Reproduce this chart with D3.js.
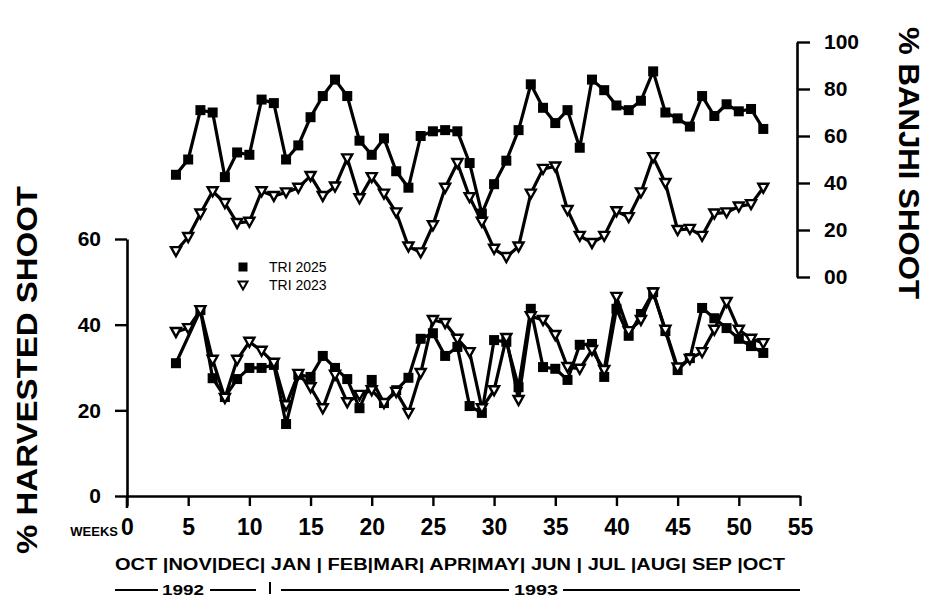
<!DOCTYPE html>
<html>
<head>
<meta charset="utf-8">
<script src="https://cdn.jsdelivr.net/npm/d3@7"></script>
<style>
  html, body { margin: 0; padding: 0; background: #fff; }
  svg { display: block; font-family: "Liberation Sans", Arial, Helvetica, sans-serif; }
</style>
</head>
<body>
<svg id="chart" width="930" height="600"></svg>
<script>
// Week number of each observation
const weeks = [4, 5, 6, 7, 8, 9, 10, 11, 12, 13, 14, 15, 16, 17, 18, 19, 20, 21, 22, 23, 24, 25, 26, 27, 28,
               29, 30, 31, 32, 33, 34, 35, 36, 37, 38, 39, 40, 41, 42, 43, 44, 45, 46, 47, 48, 49, 50, 51, 52];

// % banjhi shoot (right axis)
const banjhiTri2025 = [43.5, 50, 71, 70, 42.5, 53, 52, 75.5, 74, 50, 56, 68, 77, 84, 77, 58, 52, 59, 45, 38, 60, 62, 62.5, 62, 48.5,
                       27, 39.5, 49.5, 62.5, 82, 72, 65.5, 71, 55, 84, 79.5, 73, 71, 75, 87.5, 70, 67.5, 64, 77, 68.5, 73.5, 70.5, 71.5, 63];
const banjhiTri2023 = [11, 17, 27, 36.5, 31.5, 23, 23.5, 36.5, 34.5, 36, 38, 43, 34.5, 38.5, 50.5, 33.5, 42.5, 35.5, 27.5, 13, 10.5, 22, 38, 48.5, 34,
                       23.5, 12, 8.5, 13, 35.5, 46, 47, 28.5, 17.5, 14.5, 17.5, 28, 25.5, 36, 51, 40, 20, 20.5, 17.5, 27, 27.5, 30, 31, 38];

// % harvested shoot (left axis); null = no reading that week
const harvestTri2025 = [31, null, 43.4, 27.5, 23.1, 27.3, 29.9, 29.9, 30.6, 16.8, 28.3, 27.8, 32.7, 29.9, 27.3, 20.5, 27.1, 21.7, 24.7, 27.6, 36.7, 38, 32.7, 34.8, 21,
                        19.4, 36.4, 36, 25.4, 43.7, 30.1, 29.7, 27.1, 35.3, 35.5, 27.8, 43.7, 37.4, 42.5, 47.6, 38.5, 29.4, 32.2, 43.9, 41.5, 39.2, 36.7, 35, 33.4];
const harvestTri2023 = [38.3, 39.2, 43.4, 31.8, 22.9, 31.8, 36, 33.9, 31.1, 21.2, 28.5, 25.4, 20.5, 28.3, 21.9, 23.6, 24.7, 21.7, 24.3, 19.4, 28.7, 41.1, 40.4, 36.7, 33.6,
                        20.5, 24.7, 36.9, 22.4, 42, 41.1, 37.6, 30.1, 29.7, 34.1, 29.4, 46.5, 38.5, 41.1, 47.5, 38.8, 30, 32, 33.6, 38.8, 45.3, 38.8, 36.7, 35.7];

const seriesNames = ["TRI 2025", "TRI 2023"];
const weekTicks = [0, 5, 10, 15, 20, 25, 30, 35, 40, 45, 50, 55];
const harvestTicks = [0, 20, 40, 60];
const banjhiTicks = [0, 20, 40, 60, 80, 100];
const monthLabels = ["OCT ", "NOV", "DEC", " JAN ", " FEB", "MAR", " APR", "MAY", " JUN ", " JUL ", "AUG", " SEP ", "OCT"];
const yearLabels = ["1992", "1993"];

const svg = d3.select("#chart");
const ink = "#000";

const x = d3.scaleLinear().domain([0, 55]).range([127, 800]);
const yL = d3.scaleLinear().domain([0, 60]).range([496, 239]);
const yR = d3.scaleLinear().domain([0, 100]).range([277, 42]);

function styleAxis(g, fontSize) {
  g.selectAll("path.domain").attr("stroke", ink).attr("stroke-width", 2.6);
  g.selectAll(".tick line").attr("stroke", ink).attr("stroke-width", 2.4);
  g.selectAll(".tick text")
    .attr("fill", ink)
    .attr("font-size", fontSize)
    .attr("font-weight", "bold")
    .attr("font-family", "'Liberation Sans', Arial, sans-serif");
}

// Bottom week axis
const gx = svg.append("g")
  .attr("transform", `translate(0,${yL(0)})`)
  .call(d3.axisBottom(x).tickValues(weekTicks).tickSize(10).tickSizeOuter(0).tickPadding(13));
styleAxis(gx, 23);

// Left axis: harvested shoot
const gl = svg.append("g")
  .attr("transform", `translate(${x(0)},0)`)
  .call(d3.axisLeft(yL).tickValues(harvestTicks).tickSize(12).tickSizeOuter(0).tickPadding(14));
styleAxis(gl, 21);
// axis line continues a little below the origin
gl.append("line").attr("x1", 0).attr("x2", 0).attr("y1", yL(0)).attr("y2", yL(0) + 12)
  .attr("stroke", ink).attr("stroke-width", 2.6);

// Right axis: banjhi shoot
const gr = svg.append("g")
  .attr("transform", "translate(797,0)")
  .call(d3.axisRight(yR).tickValues(banjhiTicks).tickSize(13).tickSizeOuter(0).tickPadding(14)
    .tickFormat(d => d === 0 ? "00" : String(d)));
styleAxis(gr, 21);

// Axis titles
svg.append("text")
  .attr("transform", `translate(37,370) rotate(-90)`)
  .attr("text-anchor", "middle")
  .attr("font-size", 30).attr("font-weight", "bold")
  .attr("textLength", 368).attr("lengthAdjust", "spacingAndGlyphs")
  .text("% HARVESTED SHOOT");

svg.append("text")
  .attr("transform", `translate(899,163) rotate(90)`)
  .attr("text-anchor", "middle")
  .attr("font-size", 30).attr("font-weight", "bold")
  .attr("textLength", 272).attr("lengthAdjust", "spacingAndGlyphs")
  .text("% BANJHI SHOOT");

svg.append("text")
  .attr("x", 118).attr("y", 536)
  .attr("text-anchor", "end")
  .attr("font-size", 13).attr("font-weight", "bold")
  .text("WEEKS");

// Month row
svg.append("text")
  .attr("x", 115).attr("y", 570)
  .attr("font-size", 16).attr("font-weight", "bold")
  .attr("textLength", 670).attr("lengthAdjust", "spacingAndGlyphs")
  .text(monthLabels.join("|"));

// Year row
const yearY = 590;
const yearRule = [[115, 158], [210, 256], [281, 509], [563, 800]];
yearRule.forEach(([a, b]) => {
  svg.append("line").attr("x1", a).attr("x2", b).attr("y1", yearY).attr("y2", yearY)
    .attr("stroke", ink).attr("stroke-width", 2);
});
svg.append("line").attr("x1", 270).attr("x2", 270).attr("y1", yearY - 8).attr("y2", yearY + 4)
  .attr("stroke", ink).attr("stroke-width", 2);
svg.append("text").attr("x", 162).attr("y", yearY + 5)
  .attr("font-size", 15).attr("font-weight", "bold")
  .attr("textLength", 42).attr("lengthAdjust", "spacingAndGlyphs").text(yearLabels[0]);
svg.append("text").attr("x", 514).attr("y", yearY + 5)
  .attr("font-size", 15).attr("font-weight", "bold")
  .attr("textLength", 44).attr("lengthAdjust", "spacingAndGlyphs").text(yearLabels[1]);

// Markers
const sq = 10;
const tri = "M-5,-4L5,-4L0,5Z";

function drawSeries(values, yScale, kind) {
  const pts = weeks.map((w, i) => ({ w, v: values[i] })).filter(d => d.v != null);
  const line = d3.line().x(d => x(d.w)).y(d => yScale(d.v));
  const g = svg.append("g");
  g.append("path").datum(pts).attr("d", line)
    .attr("fill", "none").attr("stroke", ink).attr("stroke-width", 3.2).attr("stroke-linejoin", "round");
  if (kind === "square") {
    g.selectAll("rect").data(pts).join("rect")
      .attr("x", d => x(d.w) - sq / 2).attr("y", d => yScale(d.v) - sq / 2)
      .attr("width", sq).attr("height", sq).attr("fill", ink);
  } else {
    g.selectAll("path.m").data(pts).join("path").attr("class", "m")
      .attr("transform", d => `translate(${x(d.w)},${yScale(d.v)})`)
      .attr("d", tri).attr("fill", "#fff").attr("stroke", ink).attr("stroke-width", 2.4)
      .attr("stroke-linejoin", "miter");
  }
}

drawSeries(banjhiTri2025, yR, "square");
drawSeries(banjhiTri2023, yR, "triangle");
drawSeries(harvestTri2025, yL, "square");
drawSeries(harvestTri2023, yL, "triangle");

// Legend
const legend = svg.append("g").attr("transform", "translate(243,267)");
legend.append("rect").attr("x", -4.5).attr("y", -4.5).attr("width", 9).attr("height", 9).attr("fill", ink);
legend.append("text").attr("x", 26).attr("y", 5).attr("font-size", 14).text(seriesNames[0]);
legend.append("path").attr("transform", "translate(0,18)").attr("d", "M-4.5,-3.5L4.5,-3.5L0,4.5Z")
  .attr("fill", "#fff").attr("stroke", ink).attr("stroke-width", 2);
legend.append("text").attr("x", 26).attr("y", 23).attr("font-size", 14).text(seriesNames[1]);
</script>
</body>
</html>
